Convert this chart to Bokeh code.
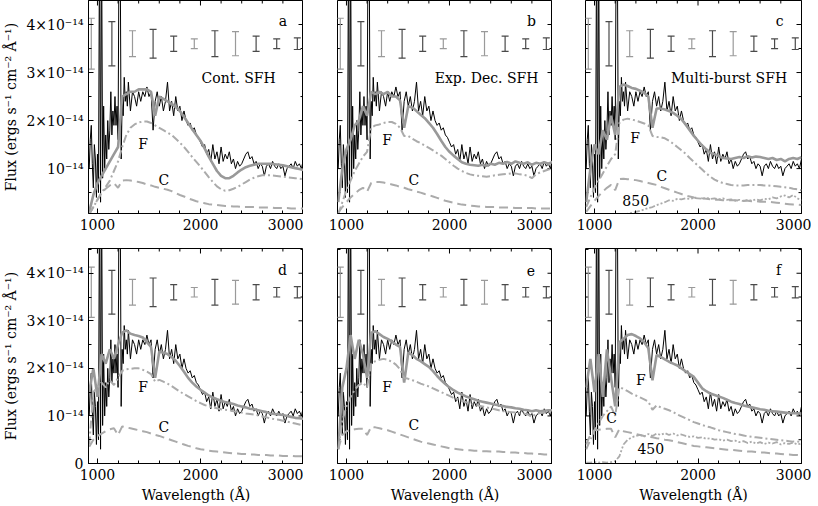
import numpy as np
from bokeh.plotting import figure
from bokeh.layouts import gridplot
from bokeh.models import FixedTicker, LinearAxis, Range1d
from bokeh.embed import file_html
from bokeh.resources import INLINE
from bokeh.core.properties import value

# ---------------- data (flux in units of 1e-14 erg/s/cm2/A) ----------------
obs_wave = np.concatenate([np.arange(920, 1300, 10), np.arange(1300, 3001, 20)])
obs_flux = [
    1.0, 1.6, 1.9, 1.1, 0.6, 1.5, 1.2, 0.4, 1.3, 0.5,
    6.0, 0.3, 6.0, 0.8, 2.3, 1.0, 1.7, 1.2, 2.0, 1.4,
    1.8, 2.6, 1.7, 2.2, 1.9, 2.5, 1.9, 2.3, 1.6, 6.0,
    6.0, 1.2, 2.4, 2.1, 2.9, 2.4, 2.6, 2.3,
    2.8, 2.2, 2.6, 2.5, 2.3, 2.6, 2.4, 2.6, 2.5, 2.7,
    2.5, 2.6, 1.8, 2.4, 2.6, 2.3, 2.5, 2.2, 2.4, 2.8,
    2.2, 2.4, 2.1, 2.5, 2.2, 2.3, 2.0, 2.2, 2.0, 1.9,
    1.95, 1.8, 1.85, 1.7, 1.65, 1.55, 1.45, 1.5, 1.3, 1.4,
    1.15, 1.5, 1.2, 1.35, 1.1, 1.45, 1.15, 1.3, 1.2, 1.35,
    1.1, 1.2, 1.0, 1.15, 1.05, 1.1, 1.2, 1.3, 1.35, 1.2,
    1.25, 1.1, 1.15, 1.0, 1.1, 1.05, 0.85, 1.05, 1.1, 1.0,
    1.15, 1.05, 1.0, 1.1, 1.0, 1.05, 0.85, 1.0, 1.05, 1.1,
    1.0, 1.15, 1.05, 1.1, 1.0, 1.2,
]

model_wave = np.arange(920, 3001, 40)

model_a = [0.1, 0.45, 0.7, 0.85, 1.0, 1.15, 1.3, 1.45, 2.5,
           2.55, 2.6, 2.6, 2.65, 2.65, 2.65, 2.6, 2.1, 2.5,
           2.45, 2.4, 2.35, 2.28, 2.2, 2.08, 1.95, 1.82, 1.7,
           1.58, 1.42, 1.25, 1.1, 0.95, 0.85, 0.8, 0.8, 0.85,
           0.92, 0.98, 1.03, 1.06, 1.08, 1.1, 1.1, 1.1, 1.1,
           1.09, 1.08, 1.07, 1.05, 1.03, 1.01, 0.99, 0.97]
fcomp_a = [0.05, 0.2, 0.35, 0.5, 0.62, 0.75, 0.95, 1.15, 1.45,
           1.7, 1.85, 1.92, 1.96, 1.98, 1.98, 1.95, 1.9, 1.85,
           1.8, 1.75, 1.7, 1.62, 1.54, 1.45, 1.35, 1.24, 1.14,
           1.04, 0.93, 0.82, 0.72, 0.63, 0.57, 0.54, 0.55, 0.58,
           0.62, 0.67, 0.72, 0.77, 0.81, 0.84, 0.86, 0.86, 0.86,
           0.85, 0.84, 0.83, 0.82, 0.81, 0.8, 0.79, 0.78]
ccomp_a = [0.05, 0.2, 0.35, 0.5, 0.58, 0.65, 0.7, 0.6, 0.75,
           0.76, 0.75, 0.74, 0.72, 0.7, 0.67, 0.65, 0.62, 0.6,
           0.58, 0.56, 0.53, 0.49, 0.45, 0.42, 0.38, 0.35, 0.32,
           0.3, 0.28, 0.26, 0.25, 0.24, 0.23, 0.22, 0.22, 0.21,
           0.21, 0.2, 0.2, 0.2, 0.2, 0.19, 0.19, 0.19, 0.19,
           0.18, 0.18, 0.18, 0.18, 0.17, 0.17, 0.17, 0.17]

model_b = [0.3, 1.0, 1.4, 1.6, 1.9, 2.0, 2.3, 2.1, 2.6,
           2.55, 2.6, 2.55, 2.6, 2.5, 2.5, 2.42, 1.85, 2.3,
           2.27, 2.2, 2.12, 2.05, 1.95, 1.85, 1.72, 1.58, 1.45,
           1.35, 1.27, 1.2, 1.13, 1.1, 1.08, 1.07, 1.06, 1.08,
           1.06, 1.1, 1.08, 1.12, 1.1, 1.14, 1.1, 1.15, 1.12,
           1.1, 1.13, 1.08, 1.12, 1.1, 1.13, 1.1, 1.14]
fcomp_b = [0.05, 0.3, 0.55, 0.75, 0.95, 1.1, 1.25, 1.35, 1.85,
           1.9, 1.92, 1.95, 1.97, 1.97, 1.93, 1.85, 1.68, 1.68,
           1.62, 1.57, 1.53, 1.48, 1.43, 1.38, 1.32, 1.27, 1.2,
           1.13, 1.06, 1.0, 0.95, 0.91, 0.88, 0.86, 0.85, 0.84,
           0.83, 0.84, 0.86, 0.87, 0.88, 0.89, 0.9, 0.9, 0.88,
           0.87, 0.85, 0.8, 0.88, 0.92, 0.95, 0.98, 1.0]
ccomp_b = [0.08, 0.2, 0.3, 0.4, 0.48, 0.55, 0.6, 0.52, 0.7,
           0.72, 0.72, 0.71, 0.69, 0.67, 0.65, 0.62, 0.6, 0.57,
           0.55, 0.52, 0.5, 0.47, 0.45, 0.42, 0.39, 0.36, 0.33,
           0.31, 0.29, 0.27, 0.25, 0.24, 0.23, 0.22, 0.21, 0.21,
           0.2, 0.2, 0.2, 0.19, 0.19, 0.19, 0.19, 0.18, 0.18,
           0.18, 0.18, 0.18, 0.17, 0.17, 0.17, 0.17, 0.17]

model_c = [0.3, 1.0, 1.5, 1.3, 1.8, 1.6, 2.1, 1.7, 2.7,
           2.75, 2.72, 2.68, 2.66, 2.62, 2.58, 2.5, 1.85, 2.25,
           2.25, 2.23, 2.2, 2.16, 2.1, 2.03, 1.92, 1.8, 1.68,
           1.58, 1.48, 1.4, 1.33, 1.3, 1.26, 1.22, 1.21, 1.2,
           1.22, 1.24, 1.22, 1.26, 1.23, 1.25, 1.24, 1.22, 1.2,
           1.22, 1.18, 1.2, 1.15, 1.2, 1.22, 1.2, 1.24]
fcomp_c = [0.2, 0.4, 0.6, 0.75, 0.9, 1.05, 1.2, 1.3, 1.95,
           2.02, 2.04, 2.02, 2.0, 1.97, 1.94, 1.9, 1.68, 1.66,
           1.65, 1.63, 1.58, 1.52, 1.45, 1.38, 1.31, 1.22, 1.14,
           1.06, 0.98, 0.9, 0.83, 0.77, 0.73, 0.7, 0.68, 0.66,
           0.65, 0.65, 0.65, 0.66, 0.66, 0.66, 0.66, 0.65, 0.65,
           0.64, 0.63, 0.62, 0.61, 0.6, 0.58, 0.57, 0.55]
ccomp_c = [0.1, 0.22, 0.33, 0.43, 0.52, 0.6, 0.66, 0.55, 0.78,
           0.79, 0.78, 0.77, 0.76, 0.74, 0.72, 0.7, 0.68, 0.66,
           0.62, 0.59, 0.56, 0.53, 0.5, 0.47, 0.44, 0.42, 0.4,
           0.39, 0.38, 0.37, 0.36, 0.35, 0.35, 0.34, 0.34, 0.34,
           0.34, 0.33, 0.33, 0.33, 0.32, 0.32, 0.31, 0.31, 0.31,
           0.3, 0.29, 0.28, 0.27, 0.26, 0.25, 0.25, 0.24]
burst_c = [0.02, 0.02, 0.02, 0.02, 0.02, 0.03, 0.03, 0.03, 0.04,
           0.05, 0.06, 0.08, 0.1, 0.12, 0.15, 0.18, 0.2, 0.24,
           0.27, 0.3, 0.34, 0.33, 0.37, 0.36, 0.38, 0.37, 0.39,
           0.38, 0.37, 0.39, 0.37, 0.38, 0.36, 0.38, 0.35, 0.36,
           0.33, 0.35, 0.32, 0.35, 0.33, 0.36, 0.34, 0.37, 0.36,
           0.4, 0.38, 0.42, 0.44, 0.4, 0.45, 0.38, 0.34]

model_d = [1.5, 2.0, 1.4, 2.3, 2.1, 2.4, 2.2, 2.5, 2.75,
           2.8, 2.73, 2.7, 2.68, 2.65, 2.55, 2.45, 1.8, 2.35,
           2.33, 2.3, 2.24, 2.16, 2.05, 1.93, 1.8, 1.7, 1.62,
           1.55, 1.49, 1.43, 1.39, 1.35, 1.32, 1.29, 1.27, 1.25,
           1.22, 1.2, 1.18, 1.15, 1.14, 1.12, 1.1, 1.08, 1.05,
           1.04, 1.03, 1.02, 1.0, 0.98, 0.96, 0.95, 0.94]
fcomp_d = [0.4, 1.5, 1.6, 1.7, 1.6, 1.75, 1.65, 1.8, 1.95,
           1.98, 1.99, 2.0, 2.0, 1.97, 1.93, 1.88, 1.72, 1.76,
           1.72, 1.68, 1.63, 1.57, 1.51, 1.46, 1.41, 1.36, 1.31,
           1.27, 1.23, 1.2, 1.18, 1.16, 1.14, 1.13, 1.12, 1.1,
           1.09, 1.07, 1.05, 1.04, 1.03, 1.01, 0.99, 0.97, 0.95,
           0.93, 0.92, 0.9, 0.88, 0.86, 0.84, 0.82, 0.8]
ccomp_d = [0.35, 0.5, 0.58, 0.63, 0.68, 0.72, 0.74, 0.6, 0.78,
           0.76, 0.74, 0.72, 0.7, 0.68, 0.66, 0.63, 0.6, 0.58,
           0.55, 0.52, 0.49, 0.46, 0.43, 0.4, 0.37, 0.35, 0.32,
           0.3, 0.29, 0.27, 0.26, 0.25, 0.24, 0.23, 0.22, 0.21,
           0.21, 0.2, 0.2, 0.19, 0.19, 0.18, 0.18, 0.18, 0.17,
           0.17, 0.17, 0.16, 0.16, 0.16, 0.15, 0.15, 0.15]

model_e = [0.3, 1.6, 2.0, 2.7, 2.2, 2.6, 2.3, 1.8, 2.75,
           2.78, 2.72, 2.66, 2.62, 2.57, 2.5, 2.45, 1.7, 2.33,
           2.28, 2.2, 2.15, 2.09, 2.03, 1.94, 1.84, 1.75, 1.67,
           1.6, 1.54, 1.49, 1.45, 1.41, 1.38, 1.35, 1.32, 1.3,
           1.28, 1.26, 1.24, 1.22, 1.21, 1.19, 1.18, 1.16, 1.15,
           1.13, 1.12, 1.1, 1.12, 1.1, 1.11, 1.12, 1.12]
fcomp_e = [0.3, 0.9, 1.2, 1.4, 1.55, 1.65, 1.7, 1.6, 2.1,
           2.15, 2.18, 2.2, 2.18, 2.14, 2.08, 1.98, 1.8, 1.78,
           1.75, 1.72, 1.68, 1.65, 1.62, 1.58, 1.54, 1.5, 1.46,
           1.42, 1.38, 1.35, 1.32, 1.29, 1.26, 1.24, 1.22, 1.2,
           1.18, 1.16, 1.14, 1.12, 1.1, 1.09, 1.08, 1.07, 1.06,
           1.05, 1.03, 0.98, 1.04, 1.06, 1.07, 1.08, 1.08]
ccomp_e = [0.3, 0.6, 0.68, 0.7, 0.72, 0.73, 0.73, 0.6, 0.77,
           0.76, 0.74, 0.72, 0.7, 0.67, 0.64, 0.61, 0.58, 0.55,
           0.52, 0.49, 0.46, 0.44, 0.42, 0.4, 0.38, 0.36, 0.34,
           0.32, 0.31, 0.3, 0.29, 0.28, 0.28, 0.27, 0.27, 0.26,
           0.26, 0.25, 0.25, 0.25, 0.24, 0.24, 0.23, 0.23, 0.22,
           0.22, 0.21, 0.21, 0.2, 0.2, 0.19, 0.19, 0.18]

model_f = [1.6, 2.2, 1.5, 2.3, 1.4, 2.4, 1.8, 1.2, 2.55,
           2.62, 2.7, 2.72, 2.68, 2.63, 2.55, 2.42, 1.75, 2.28,
           2.24, 2.19, 2.14, 2.1, 2.06, 2.0, 1.94, 1.88, 1.82,
           1.7, 1.58, 1.52, 1.47, 1.44, 1.41, 1.38, 1.34, 1.3,
           1.27, 1.25, 1.22, 1.2, 1.18, 1.16, 1.14, 1.13, 1.11,
           1.1, 1.09, 1.08, 1.07, 1.06, 1.06, 1.05, 1.05]
fcomp_f = [0.3, 0.5, 0.7, 0.85, 1.0, 1.1, 1.2, 1.0, 1.6,
           1.57, 1.52, 1.47, 1.43, 1.39, 1.35, 1.3, 1.13, 1.22,
           1.18, 1.15, 1.12, 1.08, 1.03, 0.99, 0.95, 0.91, 0.87,
           0.84, 0.81, 0.78, 0.76, 0.73, 0.7, 0.68, 0.66, 0.64,
           0.62, 0.61, 0.59, 0.57, 0.56, 0.55, 0.54, 0.53, 0.52,
           0.51, 0.5, 0.49, 0.48, 0.47, 0.46, 0.46, 0.45]
ccomp_f = [0.4, 0.6, 0.7, 0.71, 0.72, 0.73, 0.73, 0.55, 0.72,
           0.68, 0.66, 0.64, 0.62, 0.6, 0.58, 0.56, 0.55, 0.53,
           0.52, 0.5, 0.49, 0.47, 0.45, 0.43, 0.41, 0.39, 0.37,
           0.36, 0.35, 0.34, 0.33, 0.32, 0.31, 0.3, 0.29, 0.29,
           0.28, 0.27, 0.26, 0.25, 0.25, 0.24, 0.23, 0.23, 0.22,
           0.21, 0.21, 0.2, 0.19, 0.19, 0.18, 0.18, 0.17]
burst_f = [0.02, 0.02, 0.03, 0.02, 0.03, 0.02, 0.03, 0.05, 0.15,
           0.4, 0.5, 0.55, 0.58, 0.6, 0.57, 0.62, 0.58, 0.63,
           0.6, 0.64, 0.6, 0.63, 0.59, 0.61, 0.58, 0.56, 0.57,
           0.54, 0.55, 0.52, 0.53, 0.5, 0.51, 0.48, 0.5, 0.47,
           0.48, 0.45, 0.47, 0.43, 0.46, 0.42, 0.45, 0.41, 0.44,
           0.42, 0.45, 0.4, 0.43, 0.41, 0.44, 0.4, 0.42]

err_wave = [940, 1140, 1340, 1540, 1740, 1940, 2140, 2340, 2540, 2740, 2940]
err_center = [3.6] * 11
err_half = [0.53, 0.46, 0.27, 0.30, 0.16, 0.10, 0.27, 0.25, 0.16, 0.10, 0.12]
err_shade = ["light", "dark", "light", "dark", "dark", "light", "dark", "light", "dark", "dark", "dark"]

panel_letters = ["a", "b", "c", "d", "e", "f"]
panel_titles = ["Cont. SFH", "Exp. Dec. SFH", "Multi-burst SFH", "", "", ""]
burst_labels = [None, None, "850", None, None, "450"]
y_tick_labels = {0: "0", 1: "10⁻¹⁴", 2: "2×10⁻¹⁴", 3: "3×10⁻¹⁴", 4: "4×10⁻¹⁴"}
x_major = [1000, 2000, 3000]
x_minor = [1200, 1400, 1600, 1800, 2200, 2400, 2600, 2800]
y_major = [0, 1, 2, 3, 4]
y_minor = [0.5, 1.5, 2.5, 3.5, 4.5]

models = [model_a, model_b, model_c, model_d, model_e, model_f]
fcomps = [fcomp_a, fcomp_b, fcomp_c, fcomp_d, fcomp_e, fcomp_f]
ccomps = [ccomp_a, ccomp_b, ccomp_c, ccomp_d, ccomp_e, ccomp_f]
bursts = [None, None, burst_c, None, None, burst_f]

# ---------------- label placement (data coords) ----------------
letter_pos = [(2800, 4.07), (2795, 4.07), (2790, 4.07), (2797, 4.06), (2790, 4.06), (2778, 4.06)]
title_pos = [(2370, 2.88), (2360, 2.88), (2300, 2.88), None, None, None]
f_pos = [(1443, 1.52), (1395, 1.59), (1392, 1.63), (1444, 1.61), (1395, 1.61), (1447, 1.75)]
c_pos = [(1644, 0.76), (1654, 0.76), (1651, 0.84), (1644, 0.77), (1654, 0.80), (1165, 0.96)]
burst_pos = [None, None, (1398, 0.34), None, None, (1544, 0.31)]

FONT = "DejaVu Serif"
FS = "14px"
MODEL_COL = "#999999"
COMP_COL = "#ababab"
shade_col = {"light": "#9a9a9a", "dark": "#4a4a4a"}
X0, X1 = 913, 3000


def style_axis(ax):
    ax.axis_line_color = "black"
    ax.major_tick_line_color = "black"
    ax.minor_tick_line_color = "black"
    ax.major_tick_in = 5
    ax.major_tick_out = 0
    ax.minor_tick_in = 3
    ax.minor_tick_out = 0
    ax.major_label_text_font = FONT
    ax.major_label_text_color = "black"
    ax.major_label_text_font_size = FS
    ax.major_label_standoff = 5
    ax.axis_label_text_font = FONT
    ax.axis_label_text_font_size = FS
    ax.axis_label_text_font_style = "normal"
    ax.axis_label_text_color = "black"
    ax.axis_label_standoff = 4


def make_panel(i):
    top = i < 3
    col = i % 3
    fw = [215, 215, 216][col]
    fh = 213 if top else 215
    bl = [88, 34, 33][col]
    br = [0, 0, 10][col]
    bb = 35 if top else 42
    y0, y1 = (0.065, 4.50) if top else (0.0, 4.52)
    p = figure(frame_width=fw, frame_height=fh,
               x_range=Range1d(X0, X1), y_range=Range1d(y0, y1),
               output_backend="svg", toolbar_location=None,
               x_axis_location=None, y_axis_location=None,
               min_border_left=bl, min_border_right=br,
               min_border_top=0, min_border_bottom=bb)
    p.grid.visible = False
    p.outline_line_color = "black"
    p.background_fill_color = "white"
    p.border_fill_color = "white"

    xb = LinearAxis(ticker=FixedTicker(ticks=x_major, minor_ticks=x_minor))
    style_axis(xb)
    if not top:
        xb.axis_label = "Wavelength (Å)"
    p.add_layout(xb, "below")

    if col == 0:
        yl = LinearAxis(ticker=FixedTicker(ticks=y_major, minor_ticks=y_minor))
        style_axis(yl)
        yl.major_label_overrides = y_tick_labels
        yl.axis_label = "Flux (ergs s⁻¹ cm⁻² Å⁻¹)"
        p.add_layout(yl, "left")
    else:
        # inward ticks on the unlabelled left edge
        p.scatter(x=[X0] * len(y_major), y=y_major, marker="dash", size=10, line_color="black")
        p.scatter(x=[X0] * len(y_minor), y=y_minor, marker="dash", size=6, line_color="black")
    # inward ticks on right and top edges
    p.scatter(x=[X1] * len(y_major), y=y_major, marker="dash", size=10, line_color="black")
    p.scatter(x=[X1] * len(y_minor), y=y_minor, marker="dash", size=6, line_color="black")
    p.scatter(x=x_major, y=[y1] * len(x_major), marker="dash", angle=np.pi / 2, size=10,
              line_color="black")
    p.scatter(x=x_minor, y=[y1] * len(x_minor), marker="dash", angle=np.pi / 2, size=6,
              line_color="black")

    # spectra
    p.line(obs_wave, obs_flux, line_color="black", line_width=1)
    p.line(model_wave, models[i], line_color=MODEL_COL, line_width=2.6)
    p.line(model_wave, fcomps[i], line_color=COMP_COL, line_width=2, line_dash="8 3 2 3")
    p.line(model_wave, ccomps[i], line_color=COMP_COL, line_width=2, line_dash="9 5")
    if bursts[i] is not None:
        p.line(model_wave, bursts[i], line_color=COMP_COL, line_width=1.8,
               line_dash="6 2 2 2 2 2")

    # error bars
    lo = [c - h for c, h in zip(err_center, err_half)]
    hi = [c + h for c, h in zip(err_center, err_half)]
    cols = [shade_col[s] for s in err_shade]
    p.segment(x0=err_wave, y0=lo, x1=err_wave, y1=hi, line_color=cols, line_width=1.2)
    p.scatter(x=err_wave + err_wave, y=lo + hi, marker="dash", size=7,
              line_color=cols + cols, line_width=1.2)

    # labels
    def label(pos, txt):
        p.text(x=[pos[0]], y=[pos[1]], text=[txt], text_font=value(FONT),
               text_font_size=FS, text_color="black",
               text_align="center", text_baseline="middle")

    label(letter_pos[i], panel_letters[i])
    if title_pos[i] is not None:
        label(title_pos[i], panel_titles[i])
    label(f_pos[i], "F")
    label(c_pos[i], "C")
    if burst_pos[i] is not None:
        label(burst_pos[i], burst_labels[i])
    return p


panels = [make_panel(i) for i in range(6)]
grid = gridplot([panels[0:3], panels[3:6]], toolbar_location=None)

open("out.html", "w").write(file_html(grid, INLINE))
